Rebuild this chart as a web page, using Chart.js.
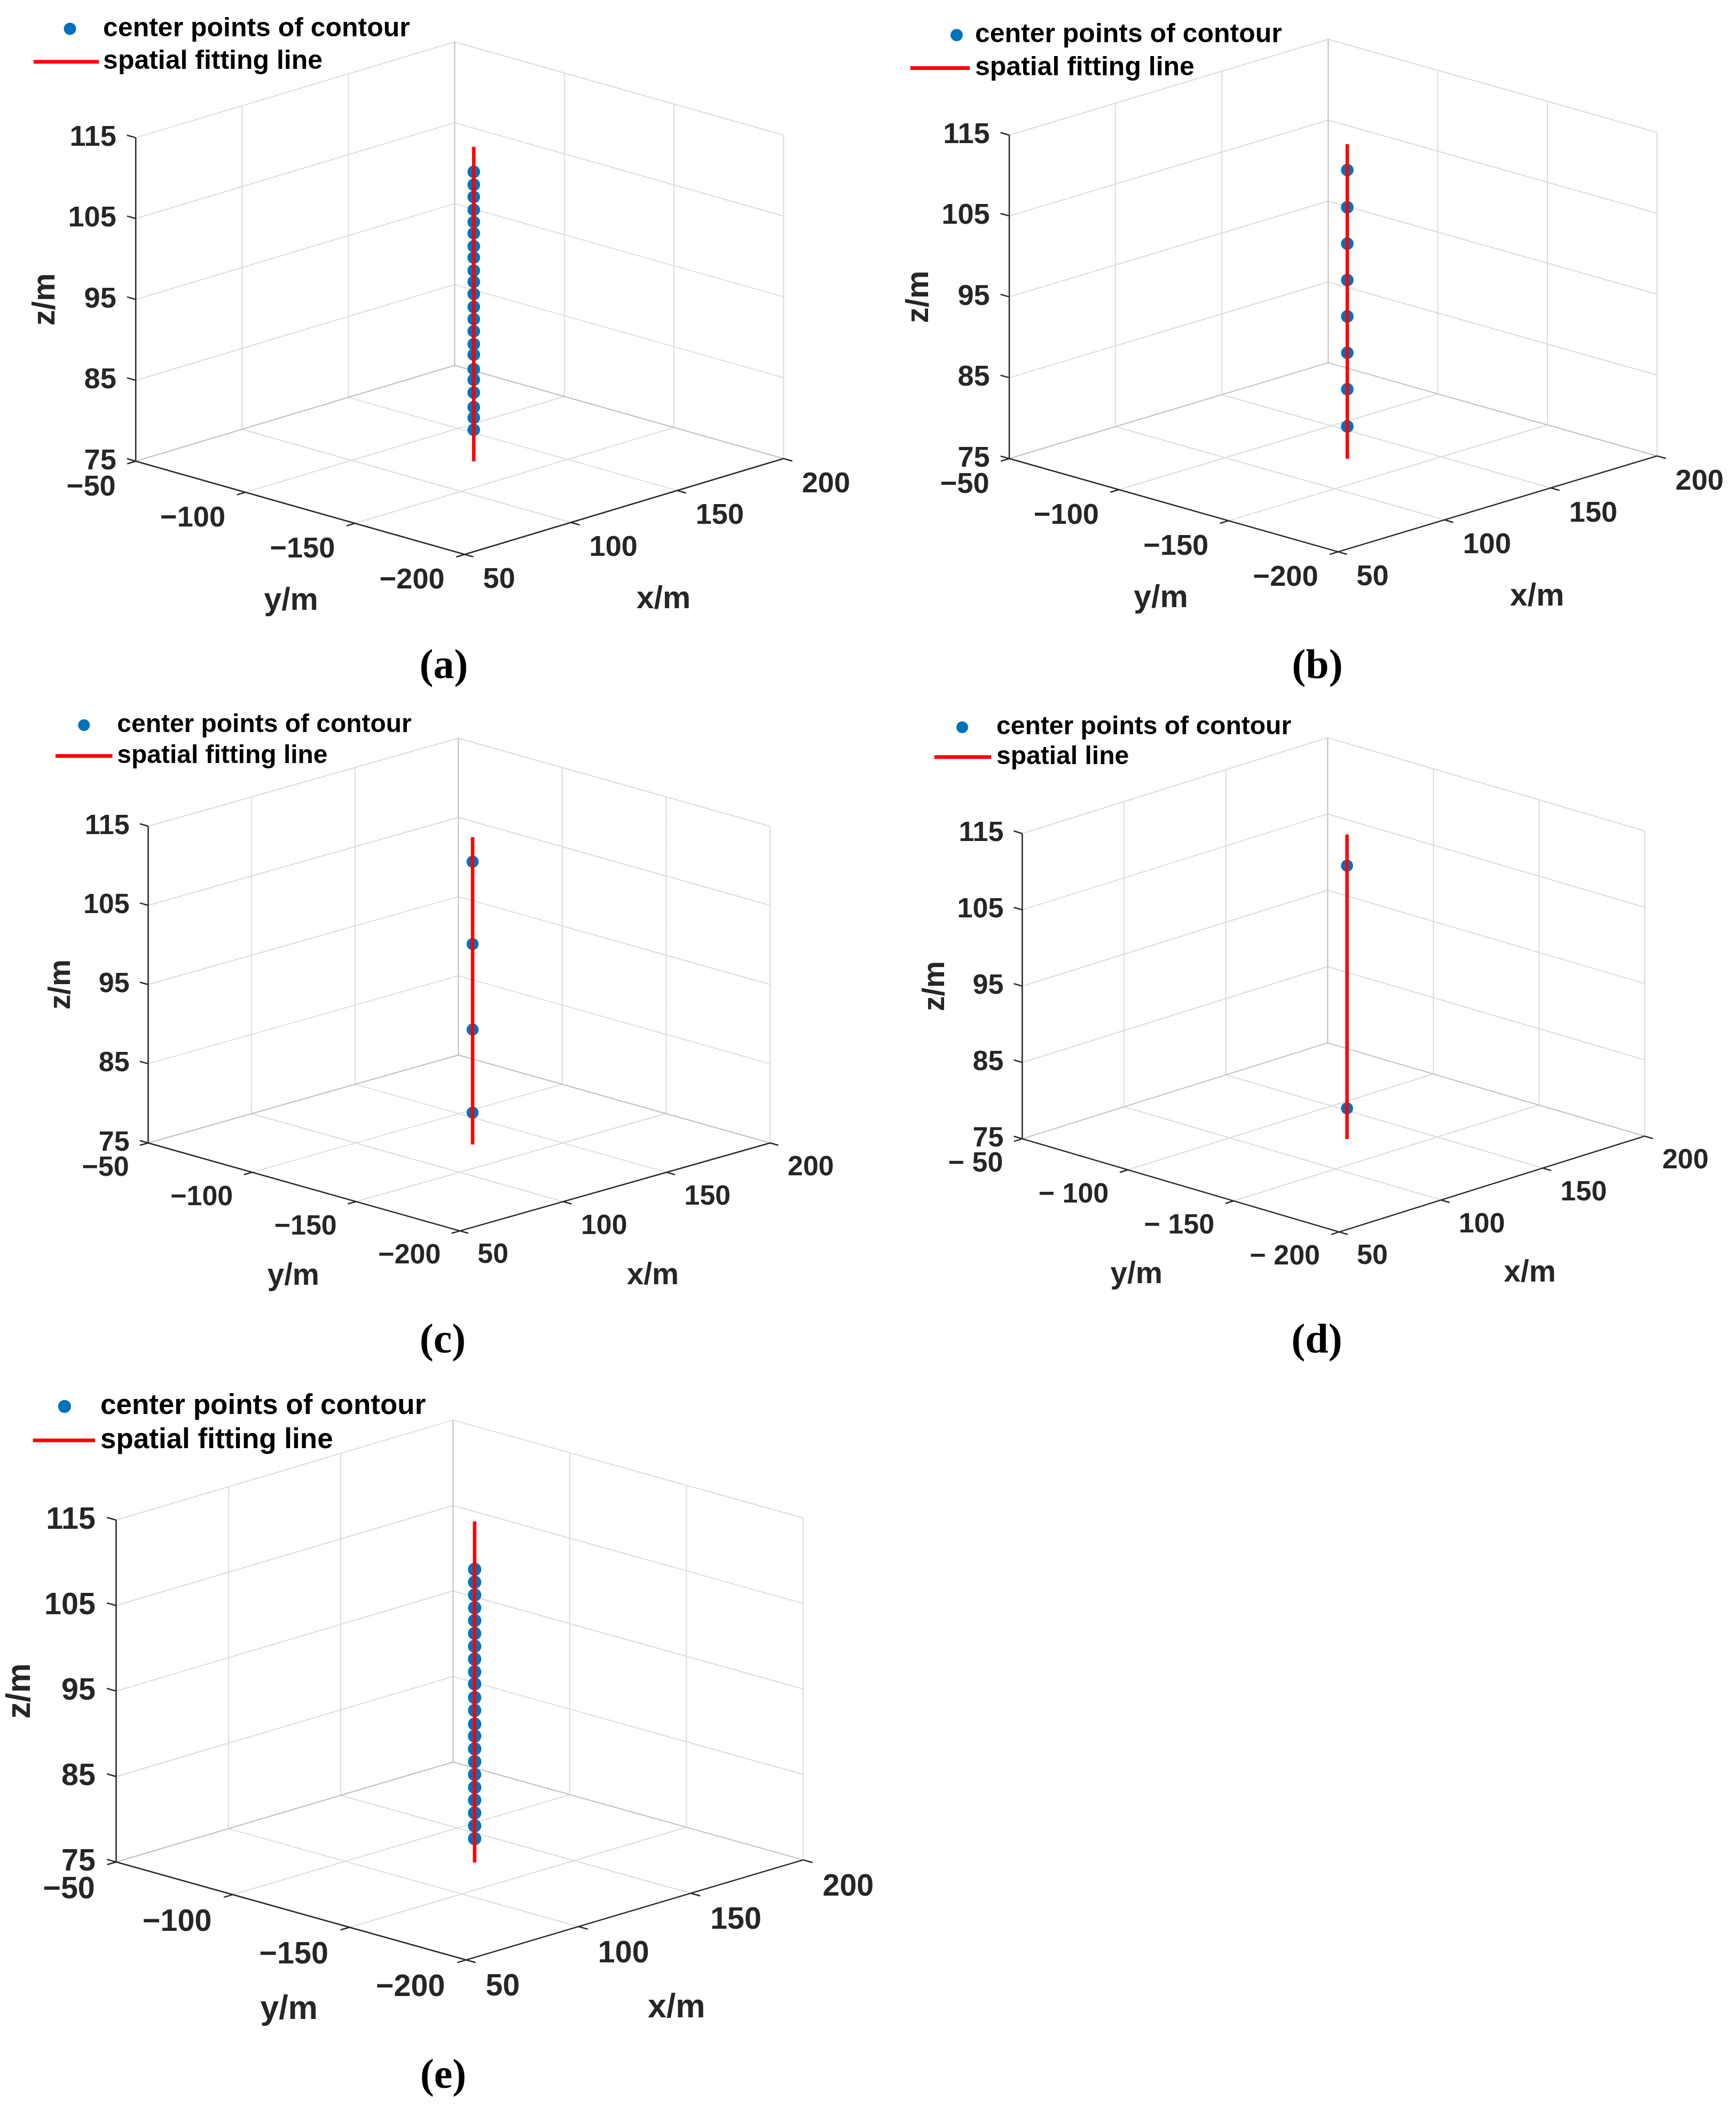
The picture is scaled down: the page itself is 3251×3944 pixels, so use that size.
<!DOCTYPE html>
<html lang="en">
<head>
<meta charset="UTF-8">
<title>Center points of contour and spatial fitting line</title>
<script src="https://cdn.jsdelivr.net/npm/chart.js"></script>
<style>
  * { margin: 0; padding: 0; box-sizing: border-box; }
  body { width: 3251px; height: 3944px; background: #fff; position: relative; overflow: hidden; }
  canvas { position: absolute; }
  .caption {
    position: absolute;
    font-family: "Liberation Serif", "DejaVu Serif", serif;
    font-size: 78px;
    font-weight: bold;
    line-height: 1;
    color: #000;
    transform: translate(-50%, -50%);
    white-space: nowrap;
  }
</style>
</head>
<body>
<script>
// ---- data ----
const xTicks = [50, 100, 150, 200];
const yTicks = [-50, -100, -150, -200];
const zTicks = [75, 85, 95, 105, 115];
const towerX = 127;      // x of the fitted vertical line / centre points
const towerY = -129.5;   // y of the fitted vertical line / centre points
const panelLabels = ['(a)', '(b)', '(c)', '(d)', '(e)'];
const pointLegend = 'center points of contour';
const lineLegends = ['spatial fitting line', 'spatial fitting line', 'spatial fitting line', 'spatial line', 'spatial fitting line'];
const lineBottoms = [75, 75, 75, 75, 75];
const lineTops = [113.9, 113.9, 113.8, 114.9, 114.9];
const zPointsA = [110.8, 109.2, 107.7, 106.1, 104.6, 103.2, 101.6, 100.2, 98.6, 97.2, 95.7,
                  94.1, 92.6, 91.1, 89.5, 88.2, 86.4, 85.1, 83.5, 81.7, 80.4, 78.9];
const zPointsB = [110.7, 106.1, 101.6, 97.1, 92.6, 88.1, 83.6, 79.0];
const zPointsC = [110.7, 100.3, 89.5, 79.0];
const zPointsD = [110.8, 79.0];
const zPointsE = [109.3, 107.8, 106.3, 104.8, 103.3, 101.8, 100.3, 98.8, 97.3, 95.9, 94.3,
                  92.8, 91.2, 89.8, 88.3, 86.8, 85.3, 83.8, 82.3, 80.8, 79.3, 77.8];
const zPoints = [zPointsA, zPointsB, zPointsC, zPointsD, zPointsE];

// ---- layout of each panel on the page (view of the 3D box) ----
// F = front corner (x=50,y=-200), L = left corner (x=50,y=-50), R = right corner (x=200,y=-200), H = height of z range
const panels = [
  { left: 0,    top: 0,    w: 1625, h: 1200, F: [871, 1047],  L: [246, 869],   R: [1477, 864],  H: 618,
    leg: { mx: 121, tx: 184, y1: 43, y2: 106, lx0: 52, lx1: 176 }, cap: [831, 1244], yLabDx: -17, minus: '\u2212' },
  { left: 1625, top: 0,    w: 1626, h: 1200, F: [2507, 1042], L: [1882, 864],  R: [3113, 859],  H: 618,
    leg: { mx: 1782, tx: 1817, y1: 55, y2: 118, lx0: 1694, lx1: 1807 }, cap: [2467, 1244], yLabDx: -24, minus: '\u2212' },
  { left: 0,    top: 1280, w: 1625, h: 1160, F: [862, 2314],  L: [270, 2146],  R: [1451, 2146], H: 605,
    leg: { mx: 148, tx: 211, y1: 1348, y2: 1407, lx0: 94, lx1: 202 }, cap: [829, 2507], yLabDx: -20, minus: '\u2212' },
  { left: 1625, top: 1280, w: 1626, h: 1160, F: [2509, 2316], L: [1907, 2138], R: [3089, 2133], H: 583,
    leg: { mx: 1793, tx: 1858, y1: 1352, y2: 1409, lx0: 1740, lx1: 1848 }, cap: [2466, 2507], yLabDx: -83, minus: '\u2212 ' },
  { left: 0,    top: 2540, w: 1760, h: 1290, F: [873, 3680],  L: [208, 3493],  R: [1513, 3489], H: 653,
    leg: { mx: 110, tx: 178, y1: 2623, y2: 2688, lx0: 50, lx1: 168 }, cap: [830, 3884], yLabDx: -4, minus: '\u2212' }
];

const SANS = '"Liberation Sans", Arial, Helvetica, sans-serif';
const BLUE = '#0072BD';
const RED = '#FF0000';
const AXIS = '#262626';
const GRID = 'rgba(38,38,38,0.16)';

const xMin = xTicks[0], xMax = xTicks[xTicks.length - 1];
const yFar = yTicks[0], yNear = yTicks[yTicks.length - 1];
const zMin = zTicks[0], zMax = zTicks[zTicks.length - 1];
const tickLen = 4; // in data units

function project(P, x, y, z) {
  const a = (x - xMin) / (xMax - xMin);
  const b = (y - yNear) / (yFar - yNear);
  const c = (z - zMin) / (zMax - zMin);
  return {
    x: P.F[0] + a * (P.R[0] - P.F[0]) + b * (P.L[0] - P.F[0]),
    y: P.F[1] + a * (P.R[1] - P.F[1]) + b * (P.L[1] - P.F[1]) - c * P.H
  };
}

function segments(P, list) {
  const out = [];
  list.forEach(([p, q]) => {
    out.push(project(P, p[0], p[1], p[2]), project(P, q[0], q[1], q[2]), { x: null, y: null });
  });
  return out;
}

function lineSet(data, color, width, order) {
  return { data, showLine: true, borderColor: color, borderWidth: width, pointRadius: 0,
           pointHoverRadius: 0, spanGaps: false, tension: 0, borderCapStyle: 'butt', order, clip: false };
}

function textPlugin(P, i) {
  return {
    id: 'axisText' + i,
    afterDatasetsDraw(chart) {
      const ctx = chart.ctx;
      const sx = v => chart.scales.x.getPixelForValue(v);
      const sy = v => chart.scales.y.getPixelForValue(v);
      const pt = (x, y, z) => { const q = project(P, x, y, z); return [sx(q.x), sy(q.y)]; };
      const s = P.s;
      ctx.save();
      ctx.fillStyle = AXIS;
      ctx.textBaseline = 'middle';
      ctx.font = `bold ${52 * s}px ${SANS}`;
      // z tick labels
      ctx.textAlign = 'right';
      zTicks.forEach(z => { const [px, py] = pt(xMin, yFar, z); ctx.fillText(String(z), px - 35 * s, py); });
      // y tick labels
      yTicks.forEach(y => { const [px, py] = pt(xMin, y, zMin); ctx.fillText(P.minus + Math.abs(y), px - 36 * s, py + 47 * s); });
      // x tick labels
      ctx.textAlign = 'left';
      xTicks.forEach(x => { const [px, py] = pt(x, yNear, zMin); ctx.fillText(String(x), px + 33 * s, py + 46 * s); });
      // axis labels
      ctx.font = `bold ${56.5 * s}px ${SANS}`;
      ctx.textAlign = 'center';
      const [fx, fy] = pt(xMin, yNear, zMin);
      const [lx, ly] = pt(xMin, yFar, zMin);
      const [rx, ry] = pt(xMax, yNear, zMin);
      const [, ty] = pt(xMin, yFar, zMax);
      ctx.fillText('x/m', (fx + rx) / 2 + 71 * s, (fy + ry) / 2 + 167 * s);
      ctx.fillText('y/m', (fx + lx) / 2 + P.yLabDx, (fy + ly) / 2 + 168 * s);
      ctx.save();
      ctx.translate(lx - 162 * s, (ly + ty) / 2);
      ctx.rotate(-Math.PI / 2);
      ctx.fillText('z/m', 0, 0);
      ctx.restore();
      // legend
      const g = P.leg;
      ctx.fillStyle = BLUE;
      ctx.beginPath();
      ctx.arc(sx(g.mx), sy(g.y1), 11 * s, 0, Math.PI * 2);
      ctx.fill();
      ctx.strokeStyle = RED;
      ctx.lineWidth = 7;
      ctx.beginPath();
      ctx.moveTo(sx(g.lx0), sy(g.y2));
      ctx.lineTo(sx(g.lx1), sy(g.y2));
      ctx.stroke();
      ctx.fillStyle = '#000';
      ctx.textAlign = 'left';
      ctx.font = `bold ${48 * s}px ${SANS}`;
      ctx.fillText(pointLegend, sx(g.tx), sy(g.y1));
      ctx.fillText(lineLegends[i], sx(g.tx), sy(g.y2));
      ctx.restore();
    }
  };
}

panels.forEach((P, i) => {
  P.s = (P.R[0] - P.L[0]) / 1182;

  const canvas = document.createElement('canvas');
  canvas.width = P.w;
  canvas.height = P.h;
  canvas.style.left = P.left + 'px';
  canvas.style.top = P.top + 'px';
  document.body.appendChild(canvas);

  const cap = document.createElement('div');
  cap.className = 'caption';
  cap.textContent = panelLabels[i];
  cap.style.left = P.cap[0] + 'px';
  cap.style.top = P.cap[1] + 'px';
  document.body.appendChild(cap);

  const wallY = [], wallX = [], floor = [], axes = [];
  xTicks.forEach(x => wallY.push([[x, yFar, zMin], [x, yFar, zMax]]));
  zTicks.forEach(z => wallY.push([[xMin, yFar, z], [xMax, yFar, z]]));
  yTicks.forEach(y => wallX.push([[xMax, y, zMin], [xMax, y, zMax]]));
  zTicks.forEach(z => wallX.push([[xMax, yFar, z], [xMax, yNear, z]]));
  xTicks.forEach(x => floor.push([[x, yFar, zMin], [x, yNear, zMin]]));
  yTicks.forEach(y => floor.push([[xMin, y, zMin], [xMax, y, zMin]]));
  axes.push([[xMin, yFar, zMin], [xMin, yFar, zMax]]);
  axes.push([[xMin, yFar, zMin], [xMin, yNear, zMin]]);
  axes.push([[xMin, yNear, zMin], [xMax, yNear, zMin]]);
  zTicks.forEach(z => axes.push([[xMin, yFar, z], [xMin, yFar + tickLen, z]]));
  xTicks.forEach(x => axes.push([[x, yNear, zMin], [x, yNear - tickLen, zMin]]));
  yTicks.forEach(y => axes.push([[xMin, y, zMin], [xMin - tickLen, y, zMin]]));

  const fitLine = [project(P, towerX, towerY, lineBottoms[i]), project(P, towerX, towerY, lineTops[i])];
  const centers = zPoints[i].map(z => project(P, towerX, towerY, z));

  new Chart(canvas, {
    type: 'scatter',
    data: {
      datasets: [
        lineSet(fitLine, RED, 6.5, 0),
        { data: centers, showLine: false, pointRadius: 11.3 * P.s, pointHoverRadius: 11.3 * P.s,
          pointBackgroundColor: BLUE, pointBorderWidth: 0, order: 1, clip: false },
        lineSet(segments(P, axes), AXIS, 2.5, 2),
        lineSet(segments(P, floor), GRID, 2, 3),
        lineSet(segments(P, wallX), GRID, 2, 4),
        lineSet(segments(P, wallY), GRID, 2, 5)
      ]
    },
    options: {
      responsive: false,
      maintainAspectRatio: false,
      devicePixelRatio: 1,
      animation: false,
      events: [],
      layout: { padding: 0 },
      plugins: { legend: { display: false }, tooltip: { enabled: false } },
      scales: {
        x: { type: 'linear', display: false, min: P.left, max: P.left + P.w },
        y: { type: 'linear', display: false, min: P.top, max: P.top + P.h, reverse: true }
      }
    },
    plugins: [textPlugin(P, i)]
  });
});
</script>
</body>
</html>
